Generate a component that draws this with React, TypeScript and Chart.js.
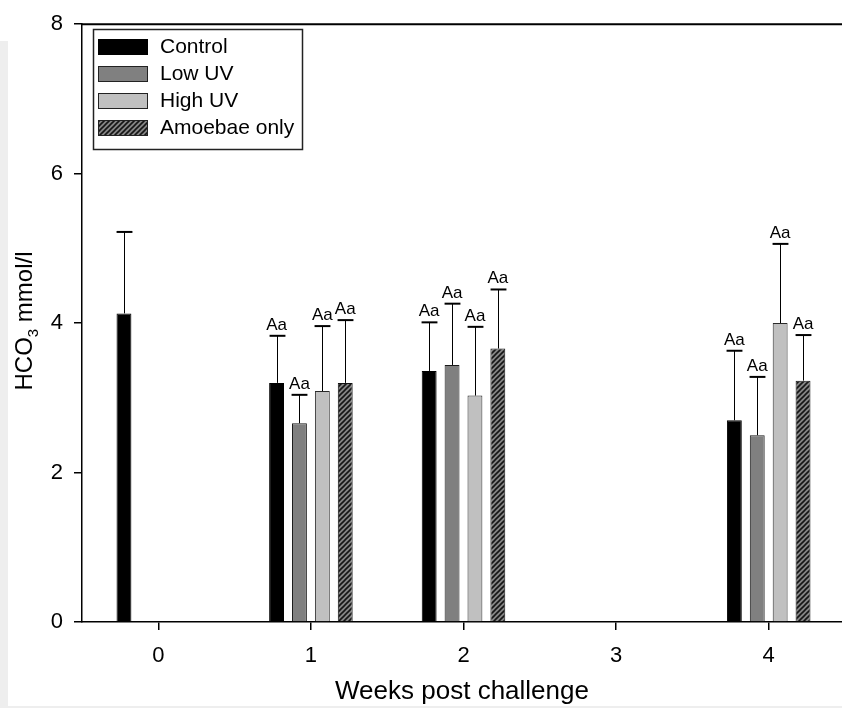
import React, { useEffect, useRef } from "react";
import { Chart, registerables } from "chart.js";
Chart.register(...registerables);

const weeks = ["0", "1", "2", "3", "4"];
const seriesNames = ["Control", "Low UV", "High UV", "Amoebae only"];

const controlMeans = [4.13, 3.2, 3.36, null, 2.7];
const controlErr = [1.09, 0.63, 0.65, null, 0.93];
const lowUVMeans = [null, 2.66, 3.44, null, 2.5];
const lowUVErr = [null, 0.38, 0.82, null, 0.78];
const highUVMeans = [null, 3.09, 3.03, null, 4.0];
const highUVErr = [null, 0.87, 0.92, null, 1.06];
const amoebaeMeans = [null, 3.2, 3.66, null, 3.23];
const amoebaeErr = [null, 0.84, 0.79, null, 0.61];

const controlLetters = ["", "Aa", "Aa", "", "Aa"];
const lowUVLetters = ["", "Aa", "Aa", "", "Aa"];
const highUVLetters = ["", "Aa", "Aa", "", "Aa"];
const amoebaeLetters = ["", "Aa", "Aa", "", "Aa"];

const yMin = 0;
const yMax = 8;
const yStep = 2;

const xTitle = "Weeks post challenge";
const yTitleMain = "HCO";
const yTitleSub = "3";
const yTitleRest = " mmol/l";

const FONT = '"Liberation Sans", Arial, Helvetica, sans-serif';

const errArrays = [controlErr, lowUVErr, highUVErr, amoebaeErr];
const letterArrays = [controlLetters, lowUVLetters, highUVLetters, amoebaeLetters];

function makeHatch(): CanvasPattern | string {
  const c = document.createElement("canvas");
  c.width = 5;
  c.height = 5;
  const g = c.getContext("2d");
  if (!g) return "#555";
  g.fillStyle = "#858585";
  g.fillRect(0, 0, 5, 5);
  g.strokeStyle = "#151515";
  g.lineWidth = 1.6;
  g.beginPath();
  g.moveTo(0, 5);
  g.lineTo(5, 0);
  g.moveTo(-1, 1);
  g.lineTo(1, -1);
  g.moveTo(4, 6);
  g.lineTo(6, 4);
  g.stroke();
  return g.createPattern(c, "repeat") || "#555";
}

export default function App() {
  const ref = useRef<HTMLCanvasElement | null>(null);

  useEffect(() => {
    const canvas = ref.current;
    if (!canvas) return;
    const hatch = makeHatch();

    const fills: any[] = ["#000000", "#808080", "#c0c0c0", hatch];
    const borders = ["#000000", "#1a1a1a", "#2a2a2a", "#111111"];
    const means = [controlMeans, lowUVMeans, highUVMeans, amoebaeMeans];

    const errorPlugin = {
      id: "errbars",
      afterDatasetsDraw(chart: any) {
        const ctx = chart.ctx as CanvasRenderingContext2D;
        const ys = chart.scales.y;
        chart.data.datasets.forEach((ds: any, di: number) => {
          const meta = chart.getDatasetMeta(di);
          const errs = errArrays[di];
          const labs = letterArrays[di];
          meta.data.forEach((el: any, i: number) => {
            const v = ds.data[i];
            if (v == null) return;
            const e = errs[i] ?? 0;
            const p = el.getProps(["x", "y", "width"], true);
            const top = ys.getPixelForValue(v + e);
            const cx = Math.round(p.x) + 0.5;
            ctx.save();
            ctx.strokeStyle = "#000";
            ctx.lineWidth = 1;
            ctx.beginPath();
            ctx.moveTo(cx, p.y);
            ctx.lineTo(cx, top);
            ctx.stroke();
            ctx.lineWidth = 2;
            ctx.beginPath();
            ctx.moveTo(cx - p.width / 2 - 0.5, top);
            ctx.lineTo(cx + p.width / 2 + 0.5, top);
            ctx.stroke();
            if (labs[i]) {
              ctx.fillStyle = "#000";
              ctx.font = `17px ${FONT}`;
              ctx.textAlign = "center";
              ctx.textBaseline = "alphabetic";
              ctx.fillText(labs[i], p.x, top - 6);
            }
            ctx.restore();
          });
        });
      },
    };

    const framePlugin = {
      id: "frame",
      afterDraw(chart: any) {
        const ctx = chart.ctx as CanvasRenderingContext2D;
        const a = chart.chartArea;
        ctx.save();
        // top frame line
        ctx.strokeStyle = "#000";
        ctx.lineWidth = 2;
        ctx.beginPath();
        ctx.moveTo(a.left, a.top);
        ctx.lineTo(a.right + 2, a.top);
        ctx.stroke();

        // legend
        const bx = 93.5, by = 29.5, bw = 209, bh = 120;
        ctx.fillStyle = "#fff";
        ctx.fillRect(bx, by, bw, bh);
        ctx.strokeStyle = "#222";
        ctx.lineWidth = 1.5;
        ctx.strokeRect(bx, by, bw, bh);
        const rowsY = [39, 66, 93, 120];
        seriesNames.forEach((name, i) => {
          const sy = rowsY[i];
          ctx.fillStyle = fills[i];
          ctx.fillRect(98, sy, 50, 16);
          if (i > 0) {
            ctx.strokeStyle = "#222";
            ctx.lineWidth = 1;
            ctx.strokeRect(98.5, sy + 0.5, 49, 15);
          }
          ctx.fillStyle = "#000";
          ctx.font = `21px ${FONT}`;
          ctx.textAlign = "left";
          ctx.textBaseline = "middle";
          ctx.fillText(name, 160, sy + 8);
        });

        // x title
        ctx.fillStyle = "#000";
        ctx.font = `26px ${FONT}`;
        ctx.textAlign = "center";
        ctx.textBaseline = "alphabetic";
        ctx.fillText(xTitle, (a.left + 842) / 2, 699);

        // y title with subscript
        ctx.save();
        const mainFont = `24px ${FONT}`;
        const subFont = `15px ${FONT}`;
        ctx.font = mainFont;
        const w1 = ctx.measureText(yTitleMain).width;
        const w3 = ctx.measureText(yTitleRest).width;
        ctx.font = subFont;
        const w2 = ctx.measureText(yTitleSub).width;
        const total = w1 + w2 + w3;
        ctx.translate(32, 321);
        ctx.rotate(-Math.PI / 2);
        ctx.textAlign = "left";
        ctx.textBaseline = "alphabetic";
        let cur = -total / 2;
        ctx.font = mainFont;
        ctx.fillText(yTitleMain, cur, 0);
        cur += w1;
        ctx.font = subFont;
        ctx.fillText(yTitleSub, cur, 6);
        cur += w2;
        ctx.font = mainFont;
        ctx.fillText(yTitleRest, cur, 0);
        ctx.restore();

        ctx.restore();
      },
    };

    const chart = new Chart(canvas, {
      type: "bar",
      data: {
        labels: weeks,
        datasets: seriesNames.map((name, i) => ({
          label: name,
          data: means[i] as any,
          backgroundColor: fills[i],
          borderColor: borders[i],
          borderWidth: 1,
          categoryPercentage: 0.6,
          barPercentage: 0.65,
        })),
      },
      options: {
        responsive: false,
        animation: false,
        devicePixelRatio: 1,
        layout: { padding: { top: 18, left: 0, right: 0, bottom: 0 } },
        plugins: {
          legend: { display: false },
          tooltip: { enabled: false },
          title: { display: false },
        },
        scales: {
          x: {
            type: "category",
            offset: true,
            grid: {
              display: true,
              offset: false,
              drawOnChartArea: false,
              drawTicks: true,
              tickLength: 8,
              color: "#000",
              lineWidth: 1.5,
            },
            border: { display: true, color: "#000", width: 1.5 },
            ticks: {
              color: "#000",
              font: { family: FONT, size: 22 },
              padding: 13,
              maxRotation: 0,
            },
            afterFit(scale: any) {
              scale.height = 86;
            },
          },
          y: {
            type: "linear",
            min: yMin,
            max: yMax,
            ticks: {
              stepSize: yStep,
              color: "#000",
              font: { family: FONT, size: 22 },
              padding: 11,
            },
            grid: {
              display: true,
              drawOnChartArea: false,
              drawTicks: true,
              tickLength: 8,
              color: "#000",
              lineWidth: 1.5,
            },
            border: { display: true, color: "#000", width: 1.5 },
            afterFit(scale: any) {
              scale.width = 82;
            },
          },
        },
      },
      plugins: [errorPlugin, framePlugin],
    });

    return () => {
      chart.destroy();
    };
  }, []);

  return (
    <div
      style={{
        position: "fixed",
        left: 0,
        top: 0,
        width: 842,
        height: 708,
        overflow: "hidden",
        background: "#fff",
      }}
    >
      <canvas
        ref={ref}
        width={845}
        height={708}
        style={{ position: "absolute", left: 0, top: 0, width: 845, height: 708 }}
      />
      <div
        style={{
          position: "absolute",
          left: 0,
          top: 41,
          width: 8,
          height: 667,
          background: "#eeeeee",
        }}
      />
      <div
        style={{
          position: "absolute",
          left: 0,
          top: 706,
          width: 842,
          height: 2,
          background: "#eeeeee",
        }}
      />
    </div>
  );
}
